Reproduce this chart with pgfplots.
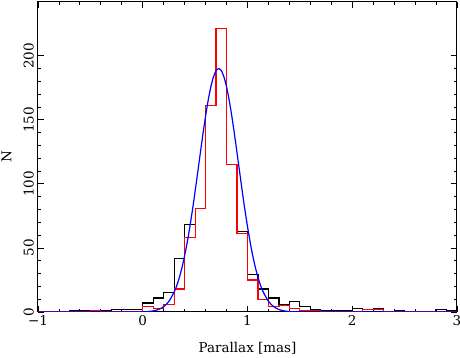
\documentclass[border=0pt]{standalone}
\usepackage{fontspec}
\setmainfont{DejaVu Serif}
\usepackage{pgfplots}
\pgfplotsset{compat=1.18}
\begin{document}
\begin{tikzpicture}[x=1pt,y=1pt,font=\fontsize{13.5}{15}\selectfont]
\useasboundingbox (-38,-46) rectangle (422,312);
\begin{axis}[
  at={(0,0)}, anchor=south west, scale only axis,
  width=419pt, height=310pt,
  xmin=-1, xmax=3, ymin=0, ymax=242,
  xtick={-1,0,1,2,3}, xticklabels={−1,0,1,2,3},
  ytick={0,50,100,150,200}, yticklabels={0,50,100,150,200},
  minor x tick num=4, minor y tick num=4,
  tick align=inside, major tick length=6pt, minor tick length=3pt,
  tick style={black, line width=0.8pt},
  axis line style={line width=1pt},
  yticklabel style={rotate=90, anchor=south, inner xsep=0pt, inner ysep=4pt},
  xticklabel style={inner ysep=3.5pt},
  xlabel={Parallax [mas]}, ylabel={N},
  xlabel style={at={(axis description cs:0.5,-0.116)}, anchor=center},
  ylabel style={at={(axis description cs:-0.075,0.5)}, anchor=center},
]
% black histogram (left bin edges)
\addplot[const plot, black, line width=1.2pt] coordinates {
(-1,0) (-0.7,1) (-0.6,1) (-0.5,1) (-0.4,1) (-0.3,2) (-0.2,2) (-0.1,2)
(0,7) (0.1,11) (0.2,15) (0.3,42) (0.4,68) (0.5,81) (0.6,161) (0.7,221)
(0.8,115) (0.9,63) (1.0,29) (1.1,18) (1.2,11) (1.3,6) (1.4,8) (1.5,4)
(1.6,2) (1.7,1) (1.8,1) (1.9,1) (2.0,3) (2.1,2) (2.2,3) (2.3,0) (2.4,1)
(2.5,0) (2.8,2) (2.9,1) (3.0,1)
};
% red histogram
\addplot[const plot, red, line width=1.2pt] coordinates {
(-1,0) (-0.5,1) (-0.4,0) (0,4) (0.1,3) (0.2,6) (0.3,18) (0.4,58) (0.5,81)
(0.6,161) (0.7,221) (0.8,115) (0.9,61) (1.0,25) (1.1,10) (1.2,4) (1.3,5)
(1.4,3) (1.5,1) (1.6,1) (1.7,0) (2.1,2) (2.3,0) (3.0,0)
};
% fitted Gaussian (tabulated)
\addplot[blue, line width=1.2pt, smooth] coordinates {
(-1,0) (-0.2,0.001) (-0.1,0.015) (0,0.13) (0.05,0.35) (0.1,0.85) (0.15,1.95)
(0.2,4.18) (0.25,8.35) (0.3,15.6) (0.325,20.7) (0.35,27.1) (0.375,34.8)
(0.4,44.0) (0.425,54.6) (0.45,66.7) (0.475,79.9) (0.5,94.2) (0.525,109.2)
(0.55,124.3) (0.575,139.1) (0.6,153.0) (0.625,165.4) (0.65,175.8)
(0.675,183.5) (0.7,188.4) (0.725,190) (0.75,188.4) (0.775,183.5)
(0.8,175.8) (0.825,165.4) (0.85,153.0) (0.875,139.1) (0.9,124.3)
(0.925,109.2) (0.95,94.2) (0.975,79.9) (1.0,66.7) (1.025,54.6) (1.05,44.0)
(1.075,34.8) (1.1,27.1) (1.125,20.7) (1.15,15.6) (1.2,8.35) (1.25,4.18)
(1.3,1.95) (1.35,0.85) (1.4,0.35) (1.45,0.13) (1.55,0.015) (1.65,0.001)
(3,0)
};
\end{axis}
\end{tikzpicture}
\end{document}
